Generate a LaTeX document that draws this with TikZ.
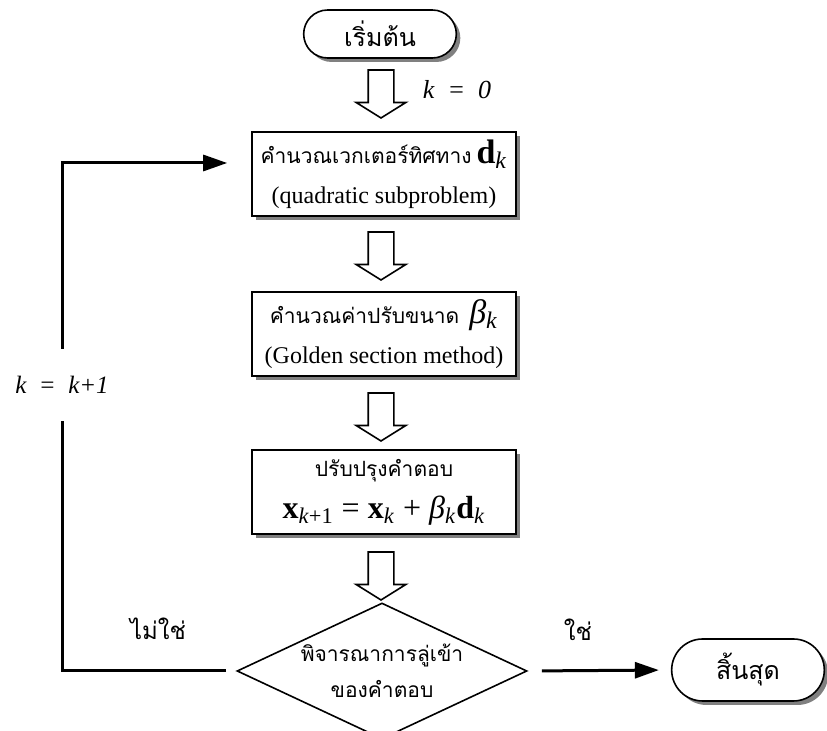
\documentclass[tikz,border=0pt]{standalone}
\usepackage{fontspec}
\setmainfont{Liberation Serif}
\newfontfamily\thai[Script=Thai]{Loma}
\usetikzlibrary{shapes.geometric,shapes.misc,shapes.arrows,shadows,arrows.meta}

\begin{document}
\begin{tikzpicture}[x=0.5pt,y=-0.5pt,
  shd/.style={drop shadow={shadow xshift=2pt,shadow yshift=-2pt,fill=gray,opacity=1}},
  term/.style={rounded rectangle,draw,thick,fill=white,shd,minimum width=83pt,minimum height=24pt,font=\thai\fontsize{12.5}{15}\selectfont},
  box/.style={rectangle,draw,thick,fill=white,shd,minimum width=132pt,minimum height=42pt,align=center},
  dec/.style={diamond,aspect=2.13,draw,thick,fill=white,minimum width=145pt,minimum height=68pt,inner sep=0pt,align=center},
  blk/.style={single arrow,draw,thick,fill=white,rotate=-90,minimum height=24pt,inner sep=6pt,text height=0pt,text depth=0pt,text width=0pt,single arrow head extend=6pt,single arrow tip angle=116},
  back/.style={line width=1.5pt,-{Triangle[length=12pt,width=8pt]}}
]
\useasboundingbox (0,0) rectangle (827,731);

\node [term] (start) at (380,34) {เริ่มต้น};
\node (k0) at (457,90) {\fontsize{13}{15}\selectfont\textit{k\ \ =\ \ 0}};

\node [box] (dir) at (384,174) {{\thai\fontsize{10.5}{13}\selectfont คำนวณเวกเตอร์ทิศทาง}\ {\fontsize{17}{17}\selectfont\textbf{d}\textsubscript{\textit{k}}}\\[8pt]
  {\fontsize{12}{14}\selectfont (quadratic subproblem)}};

\node [box] (step) at (384,334) {{\thai\fontsize{10.5}{13}\selectfont คำนวณค่าปรับขนาด}\ \ {\fontsize{17}{17}\selectfont\textit{β}\textsubscript{\textit{k}}}\\[8pt]
  {\fontsize{12}{14}\selectfont (Golden section method)}};

\node [box] (upd) at (384,492) {{\thai\fontsize{10.5}{13}\selectfont ปรับปรุงคำตอบ}\\[6pt]
  {\fontsize{16}{16}\selectfont\textbf{x}\textsubscript{\textit{k}+1} = \textbf{x}\textsubscript{\textit{k}} + \textit{β}\textsubscript{\textit{k}}\textbf{d}\textsubscript{\textit{k}}}};

\node [dec] (conv) at (382,671) {{\thai\fontsize{10.5}{13}\selectfont พิจารณาการลู่เข้า}\\[6pt]{\thai\fontsize{10.5}{13}\selectfont ของคำตอบ}};
\node [term,minimum height=31pt] (stop) at (748,670) {สิ้นสุด};

% block arrows between the steps
\node [blk] (a1) at (381,90) {};
\node [blk] (a2) at (381,252) {};
\node [blk] (a3) at (381,413) {};
\node [blk] (a4) at (381,572) {};

% loop back
\node [minimum height=36pt] (kinc) at (62,385) {\fontsize{12.5}{15}\selectfont\textit{k\ \ =\ \ k+1}};
\coordinate (tl) at (62,163);
\draw [line width=1.5pt,shorten <=5pt] (conv.west) -- (conv.west -| kinc.south) -- (kinc.south);
\draw [back,shorten >=12pt] (kinc.north) -- (tl) -- (tl -| dir.west);
\node [font=\thai\fontsize{12}{14}\selectfont] (no) at (158,629) {ไม่ใช่};

% exit
\draw [back,shorten <=7pt,shorten >=6pt] (conv.east) -- (stop.west);
\node [font=\thai\fontsize{12}{14}\selectfont] (yes) at (578,630) {ใช่};
\end{tikzpicture}
\end{document}
